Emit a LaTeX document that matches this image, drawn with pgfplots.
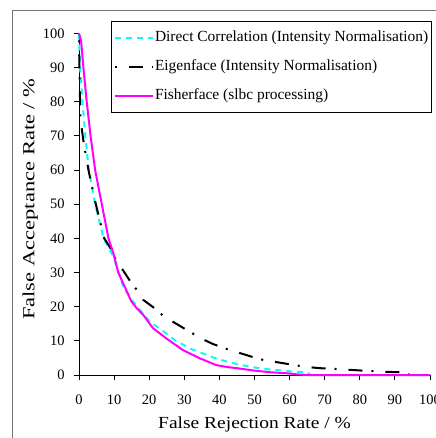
\documentclass[border=0pt]{standalone}
\usepackage{fontspec}
\setmainfont{Liberation Serif}
\newfontfamily\xlabfont{Liberation Serif}[FakeStretch=1.15]
\newfontfamily\ylabfont{Liberation Serif}[FakeStretch=1.33]
\usepackage{pgfplots}
\pgfplotsset{compat=1.18}
\definecolor{mycyan}{RGB}{0,255,255}
\definecolor{mymag}{RGB}{255,0,255}
\begin{document}
\begin{tikzpicture}
\useasboundingbox (0,0) rectangle (436bp,-438bp);
\draw[black!55, line width=1bp] (12.5bp,-445bp) -- (12.5bp,-10.5bp) -- (445bp,-10.5bp);
\begin{axis}[
 at={(79bp,-375bp)}, anchor=south west,
 scale only axis, width=351bp, height=341.5bp,
 xmin=0, xmax=100, ymin=0, ymax=100,
 axis x line=bottom, axis y line=left,
 axis line style={-, line width=1bp, black},
 xtick={0,10,...,100}, ytick={0,10,...,100},
 tick align=outside, major tick length=5bp,
 tick style={black, line width=1bp},
 /pgf/number format/assume math mode=true,
 ticklabel style={font=\fontsize{14.5}{16}\selectfont},
 xticklabel style={yshift=-11bp},
 yticklabel style={xshift=-6bp},
 xlabel={False Rejection Rate / \%},
 ylabel={False Acceptance Rate / \%},
 xlabel style={font=\xlabfont\fontsize{17}{20}\selectfont, at={(axis description cs:0.5,-0.145)}, anchor=center},
 ylabel style={font=\ylabfont\fontsize{17}{20}\selectfont, at={(axis description cs:-0.139,0.515)}, anchor=center, rotate=0},
 clip=false,
 legend cell align=left,
 legend image code/.code={\draw[#1] (0bp,0bp) -- (38bp,0bp);},
 legend style={at={(axis description cs:0.0912,1.0366)}, anchor=north west,
   draw=black, line width=1bp, inner xsep=2bp, inner ysep=9bp, row sep=14bp,
   font=\fontsize{15.5}{17}\selectfont,
   nodes={inner xsep=1.5bp, inner ysep=0bp, text height=11bp, text depth=4bp}},
]
\addplot[mycyan, line width=2bp, dash pattern=on 6bp off 5bp] coordinates {
(0,100) (0.2,93) (0.3,90) (1.0,80) (1.8,70) (2.8,60) (4.6,50) (7.0,40) (9.8,34.6)
(12.6,25.9) (15.0,22) (17.4,19) (20.2,15.6) (23.5,13.2) (27.3,10.2) (32,7.6)
(38.1,5.2) (41.5,4.1) (45,3.2) (48.9,2.4) (52.6,1.8) (56.9,1.4) (60.7,1.0)
(65,0.8) (66,0) (100,0)};
\addlegendentry{Direct Correlation (Intensity Normalisation)}
\addplot[black, line width=2bp, dash pattern=on 2bp off 12bp on 14bp off 9bp] coordinates {
(0,98) (0.2,85) (0.4,76) (0.8,72) (1.2,69) (1.5,67) (2.7,60) (4.8,50) (7.2,40)
(9.3,36.6) (10.3,34.2) (13.1,29.8) (15,26.8) (16.9,24.4) (18.3,22) (21.6,19.5)
(23,18.1) (25.9,16.1) (31.5,12.7) (34.8,10.7) (38.1,9.1) (42.4,7.5) (45.9,6.4)
(49.7,5.2) (52.5,4.4) (57.3,3.6) (61.5,2.9) (64.4,2.4) (68.6,2.0) (74.3,1.7)
(80.5,1.3) (85.7,1.0) (91.4,0.8) (93,0.3) (95,0)};
\addlegendentry{Eigenface (Intensity Normalisation)}
\addplot[mymag, line width=2bp] coordinates {
(0,100) (0.3,99) (0.6,97.8) (1.25,90) (2.2,80) (3.3,70) (4.6,60) (6.5,50) (8.4,40)
(9.8,35.6) (11.2,30) (12.6,26.8) (14.9,21.6) (16.4,19.6) (18.3,17.6) (21.1,13.7)
(24.9,10.7) (29.6,7.3) (34.4,4.9) (39.1,2.9) (42.4,2.3) (45,2.0) (49.8,1.3)
(54.6,0.8) (59.3,0.5) (62,0.2) (65,0) (100,0)};
\addlegendentry{Fisherface (slbc processing)}
\end{axis}
\end{tikzpicture}
\end{document}
